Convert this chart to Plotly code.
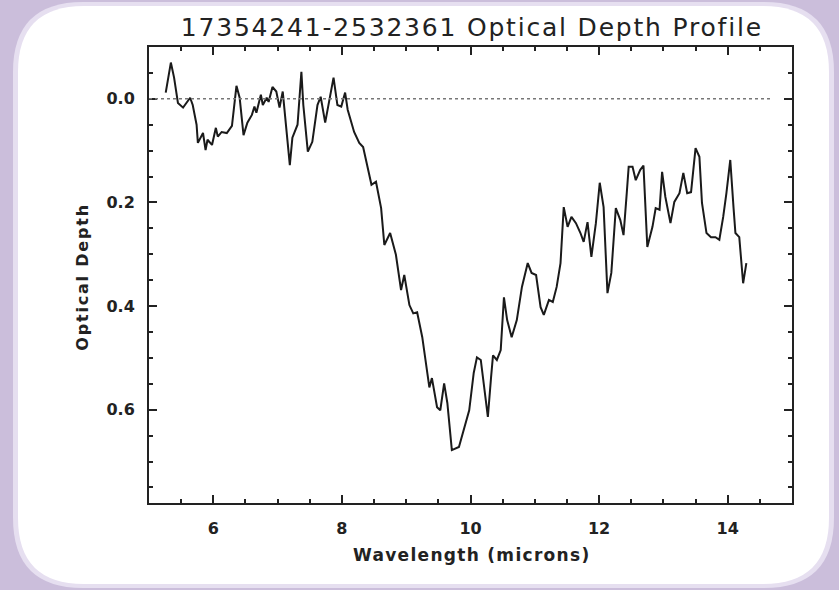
import plotly.graph_objects as go

wavelength = [5.26, 5.34, 5.39, 5.45, 5.53, 5.64, 5.68, 5.74, 5.76, 5.84, 5.88, 5.91, 5.98, 6.04, 6.07, 6.13, 6.21, 6.29,
              6.36, 6.41, 6.47, 6.53, 6.60, 6.64, 6.67, 6.74, 6.77, 6.83, 6.86, 6.92, 6.98, 7.03, 7.08, 7.19, 7.23, 7.31,
              7.37, 7.40, 7.47, 7.54, 7.62, 7.67, 7.74, 7.81, 7.87, 7.93, 7.99, 8.05, 8.09, 8.19, 8.27, 8.33, 8.40, 8.46,
              8.53, 8.61, 8.66, 8.75, 8.84, 8.92, 8.97, 9.05, 9.11, 9.17, 9.25, 9.31, 9.36, 9.40, 9.48, 9.53, 9.59, 9.64,
              9.71, 9.82, 9.90, 9.98, 10.05, 10.10, 10.16, 10.21, 10.27, 10.32, 10.35, 10.41, 10.47, 10.52, 10.57, 10.64,
              10.72, 10.80, 10.89, 10.95, 11.02, 11.09, 11.14, 11.22, 11.28, 11.34, 11.40, 11.45, 11.51, 11.57, 11.64,
              11.71, 11.76, 11.82, 11.88, 11.95, 12.01, 12.07, 12.13, 12.19, 12.26, 12.33, 12.38, 12.43, 12.46, 12.52,
              12.57, 12.64, 12.69, 12.75, 12.83, 12.88, 12.94, 12.98, 13.03, 13.11, 13.17, 13.25, 13.31, 13.37, 13.43,
              13.50, 13.56, 13.60, 13.67, 13.74, 13.81, 13.87, 13.93, 13.98, 14.04, 14.09, 14.12, 14.18, 14.24, 14.29]
optical_depth = [-0.012, -0.070, -0.041, 0.008, 0.017, -0.002, 0.012, 0.050, 0.085, 0.066, 0.099, 0.079, 0.089, 0.056,
                 0.073, 0.064, 0.066, 0.052, -0.025, -0.002, 0.070, 0.046, 0.031, 0.015, 0.027, -0.008, 0.012, -0.002,
                 0.006, -0.023, -0.014, 0.017, -0.014, 0.128, 0.075, 0.050, -0.052, 0.012, 0.102, 0.083, 0.012, -0.004,
                 0.046, -0.002, -0.041, 0.012, 0.015, -0.012, 0.021, 0.064, 0.085, 0.093, 0.133, 0.166, 0.160, 0.211,
                 0.282, 0.259, 0.301, 0.369, 0.340, 0.398, 0.414, 0.412, 0.460, 0.510, 0.557, 0.539, 0.595, 0.601,
                 0.549, 0.587, 0.678, 0.672, 0.634, 0.601, 0.529, 0.499, 0.504, 0.557, 0.614, 0.537, 0.495, 0.504,
                 0.485, 0.383, 0.427, 0.460, 0.427, 0.363, 0.317, 0.336, 0.340, 0.402, 0.417, 0.388, 0.392, 0.363,
                 0.317, 0.209, 0.247, 0.228, 0.240, 0.259, 0.276, 0.238, 0.305, 0.240, 0.162, 0.209, 0.375, 0.336,
                 0.211, 0.234, 0.263, 0.182, 0.131, 0.131, 0.157, 0.137, 0.129, 0.286, 0.247, 0.211, 0.214, 0.141,
                 0.189, 0.240, 0.199, 0.182, 0.143, 0.182, 0.180, 0.095, 0.112, 0.201, 0.259, 0.267, 0.267, 0.272,
                 0.228, 0.182, 0.118, 0.209, 0.259, 0.267, 0.356, 0.317]

title_text = "17354241-2532361 Optical Depth Profile"
x_title = "Wavelength (microns)"
y_title = "Optical Depth"

W, H = 839, 590
L, R, T, B = 149, 47, 47, 87
PW, PH = W - L - R, H - T - B


def px(xp):
    return (xp - L) / PW


def py(yp):
    return (H - B - yp) / PH


def rounded_path(x0, y0, x1, y1, r):
    rx, ry = r / PW, r / PH
    X0, X1 = px(x0), px(x1)
    Y0, Y1 = py(y0), py(y1)  # Y0 top, Y1 bottom
    return (f"M {X0 + rx} {Y0} L {X1 - rx} {Y0} Q {X1} {Y0} {X1} {Y0 - ry} "
            f"L {X1} {Y1 + ry} Q {X1} {Y1} {X1 - rx} {Y1} "
            f"L {X0 + rx} {Y1} Q {X0} {Y1} {X0} {Y1 + ry} "
            f"L {X0} {Y0 - ry} Q {X0} {Y0} {X0 + rx} {Y0} Z")


fig = go.Figure()
fig.add_trace(go.Scatter(x=wavelength, y=optical_depth, mode="lines",
                         line=dict(color="#1a1a1a", width=2), showlegend=False, hoverinfo="skip"))

shapes = [
    dict(type="path", xref="paper", yref="paper", path=rounded_path(13, 2, 834, 588, 70),
         fillcolor="#e6dff0", line=dict(width=0), layer="below"),
    dict(type="path", xref="paper", yref="paper", path=rounded_path(18, 6, 829, 584, 66),
         fillcolor="#ffffff", line=dict(width=0), layer="below"),
    dict(type="line", xref="x", yref="y", x0=5, x1=14.7, y0=0, y1=0,
         line=dict(color="#777777", width=1.5, dash="dot")),
]

axis_font = dict(family="DejaVu Sans", size=16, color="#222222", weight="bold")
fig.update_layout(
    width=W, height=H,
    margin=dict(l=L, r=R, t=T, b=B),
    paper_bgcolor="#cbbedb",
    plot_bgcolor="rgba(0,0,0,0)",
    shapes=shapes,
    xaxis=dict(range=[5, 15], tick0=0, dtick=2, ticks="inside", ticklen=8, tickwidth=1.5,
               tickcolor="#222", showline=True, linecolor="#222", linewidth=2, mirror="ticks",
               showgrid=False, zeroline=False, tickfont=axis_font, ticklabelstandoff=10,
               minor=dict(dtick=0.5, ticks="inside", ticklen=4, tickcolor="#222", tickwidth=1.5)),
    yaxis=dict(range=[0.78, -0.1], tick0=0, dtick=0.2, tickformat=".1f", ticks="inside", ticklen=8,
               tickwidth=1.5, tickcolor="#222", showline=True, linecolor="#222", linewidth=2,
               mirror="ticks", showgrid=False, zeroline=False, tickfont=axis_font, ticklabelstandoff=9,
               minor=dict(dtick=0.05, ticks="inside", ticklen=4, tickcolor="#222", tickwidth=1.5)),
    annotations=[
        dict(text=title_text, xref="paper", yref="paper", x=px(472), y=py(27), showarrow=False,
             xanchor="center", yanchor="middle", font=dict(family="DejaVu Sans", size=25, color="#222")),
        dict(text=x_title, xref="paper", yref="paper", x=px(471), y=py(555), showarrow=False,
             xanchor="center", yanchor="middle",
             font=dict(family="DejaVu Sans", size=17, color="#222", weight="bold")),
        dict(text=y_title, xref="paper", yref="paper", x=px(82), y=py(277), showarrow=False,
             textangle=-90, xanchor="center", yanchor="middle",
             font=dict(family="DejaVu Sans", size=16, color="#222", weight="bold")),
    ],
)

post = """
document.body.style.margin='0';document.body.style.padding='0';
var sp=['1.8px','1.3px','1.8px'];
document.querySelectorAll('.annotation-text').forEach(function(t,i){ if(i<sp.length){t.style.letterSpacing=sp[i];} });
"""
fig.write_html("out.html", post_script=post, config={"displayModeBar": False})
